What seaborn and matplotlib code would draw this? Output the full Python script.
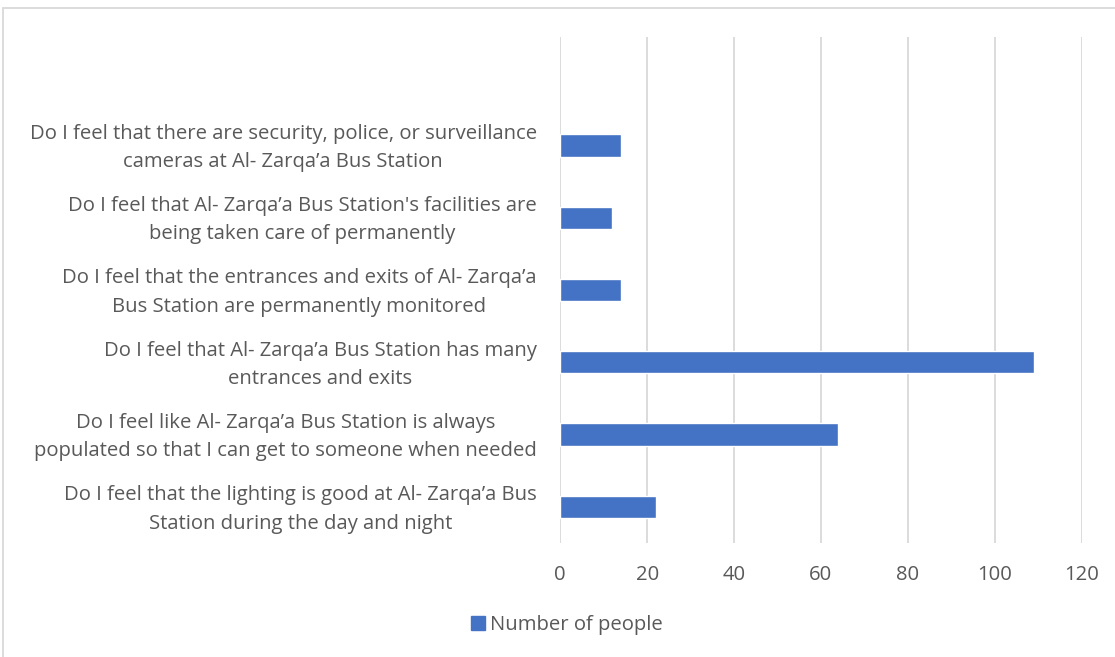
import matplotlib
matplotlib.use("Agg")
import matplotlib.pyplot as plt
import matplotlib.transforms as mtrans
import seaborn as sns
import pandas as pd
from matplotlib.patches import Rectangle, Patch

categories = [
    "Do I feel that there are security, police, or surveillance\ncameras at Al- Zarqa\u2019a Bus Station",
    "Do I feel that Al- Zarqa\u2019a Bus Station's facilities are\nbeing taken care of permanently",
    "Do I feel that the entrances and exits of Al- Zarqa\u2019a\nBus Station are permanently monitored",
    "Do I feel that Al- Zarqa\u2019a Bus Station has many\nentrances and exits",
    "Do I feel like Al- Zarqa\u2019a Bus Station is always\npopulated so that I can get to someone when needed",
    "Do I feel that the lighting is good at Al- Zarqa\u2019a Bus\nStation during the day and night",
]
values = [14, 12, 14, 109, 64, 22]
xticks = [0, 20, 40, 60, 80, 100, 120]
series_name = "Number of people"

sns.set_theme(style="white")
plt.rcParams['font.family'] = ['Open Sans', 'DejaVu Sans']

TEXT = "#595959"
BAR = "#4472C4"
GRID = "#D9D9D9"
FS = 14.6

df = pd.DataFrame({"cat": categories, "val": values})

fig = plt.figure(figsize=(11.15, 6.57), dpi=100)
ax = fig.add_axes([560.3/1115, 1-543/657, (1081.7-560.3)/1115, (543-37)/657])

sns.barplot(data=df, x="val", y="cat", orient="h", color=BAR, width=0.31,
            saturation=1, ax=ax, zorder=3)

ax.set_xlim(0, 120)
ax.set_ylim(5.5, -1.5)
ax.set_xticks(xticks)
ax.set_xticklabels([str(t) for t in xticks], color=TEXT, fontsize=FS)
ax.set_xlabel("")
ax.set_ylabel("")
ax.grid(axis="x", color=GRID, linewidth=1.3, zorder=0)
ax.grid(axis="y", visible=False)
for s in ax.spines.values():
    s.set_visible(False)
ax.tick_params(axis="x", length=0, pad=16)
ax.tick_params(axis="y", length=0, pad=17)
offset = mtrans.ScaledTranslation(0, 4/100, fig.dpi_scale_trans)
for lbl in ax.get_yticklabels():
    lbl.set_color(TEXT)
    lbl.set_fontsize(FS)
    lbl.set_multialignment("center")
    lbl.set_linespacing(1.55)
    lbl.set_transform(lbl.get_transform() + offset)

fig.legend(handles=[Patch(facecolor=BAR, edgecolor=BAR)], labels=[series_name],
           loc="center", bbox_to_anchor=(567/1115, 1-625/657), frameon=False,
           fontsize=FS, labelcolor=TEXT, handlelength=0.7, handleheight=0.7,
           handletextpad=0.25)

fig.patches.append(Rectangle((3/1115, -0.01), 1.1, 1-8/657+0.01, transform=fig.transFigure,
                             fill=False, edgecolor=GRID, linewidth=1.3))

fig.savefig("out.png", dpi=100, facecolor="white")
